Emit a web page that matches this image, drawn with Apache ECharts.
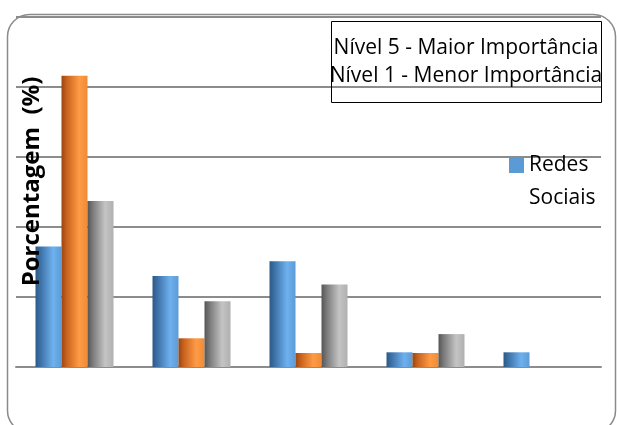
<!DOCTYPE html>
<html>
<head>
<meta charset="utf-8">
<script src="https://cdn.jsdelivr.net/npm/echarts@6/dist/echarts.min.js"></script>
<style>
  html, body { margin: 0; padding: 0; background: #ffffff; }
  #chart { width: 617px; height: 425px; }
</style>
</head>
<body>
<div id="chart"></div>
<script>
// Importance levels on the category axis (labels are not shown on the chart)
const categories = ['Nível 5', 'Nível 4', 'Nível 3', 'Nível 2', 'Nível 1'];

// Percentages per series
const redesSociais = [17.2, 13.0, 15.1, 2.1, 2.1];
const serie2 = [41.6, 4.1, 2.0, 2.0, 0];
const serie3 = [23.7, 9.4, 11.8, 4.7, 0];

const seriesNames = ['Redes Sociais', 'Série 2', 'Série 3'];
const axisTitle = 'Porcentagem  (%)';
const noteLines = ['Nível 5 - Maior Importância', 'Nível 1 - Menor Importância'];

// Cylinder-like horizontal shading for each bar colour
function shade(dark, mid, light, edge) {
  return new echarts.graphic.LinearGradient(0, 0, 1, 0, [
    { offset: 0, color: dark },
    { offset: 0.2, color: mid },
    { offset: 0.68, color: light },
    { offset: 1, color: edge }
  ]);
}

const chart = echarts.init(document.getElementById('chart'), null, { renderer: 'canvas' });

const barCommon = {
  type: 'bar',
  barWidth: 26,
  barGap: '0%',
  barCategoryGap: '33.3%'
};

chart.setOption({
  animation: false,
  backgroundColor: '#ffffff',
  grid: { left: 16, right: 16, top: 17, bottom: 58, containLabel: false },
  legend: {
    data: [seriesNames[0]],
    left: 509,
    top: 116,
    padding: 0,
    itemWidth: 15,
    itemHeight: 15,
    icon: 'rect',
    itemStyle: { color: '#5b9bd5' },
    formatter: function () { return '\u00a0\nRedes\nSociais'; },
    textStyle: { fontFamily: 'Open Sans', fontSize: 21, color: '#000000', lineHeight: 33 }
  },
  xAxis: {
    type: 'category',
    data: categories,
    axisLine: { show: true, lineStyle: { color: '#8c8c8c', width: 2 } },
    axisTick: { show: false },
    axisLabel: { show: false }
  },
  yAxis: {
    type: 'value',
    min: 0,
    max: 50,
    interval: 10,
    axisLine: { show: false },
    axisTick: { show: false },
    axisLabel: { show: false },
    splitLine: { show: true, lineStyle: { color: '#8c8c8c', width: 2 } }
  },
  series: [
    Object.assign({}, barCommon, {
      name: seriesNames[0],
      data: redesSociais,
      itemStyle: { color: shade('#2c5986', '#3d72a8', '#6eb1ee', '#5c9bd6') }
    }),
    Object.assign({}, barCommon, {
      name: seriesNames[1],
      data: serie2,
      itemStyle: { color: shade('#9a460f', '#c8621e', '#ff9b46', '#f08a36') }
    }),
    Object.assign({}, barCommon, {
      name: seriesNames[2],
      data: serie3,
      itemStyle: { color: shade('#555555', '#7a7a7a', '#c4c4c4', '#b0b0b0') }
    })
  ],
  graphic: [
    {
      type: 'rect',
      shape: { x: 7.5, y: 14.5, width: 608, height: 418, r: 22 },
      style: { fill: null, stroke: '#8a8a8a', lineWidth: 1.5 },
      silent: true,
      z: 100
    },
    {
      type: 'rect',
      shape: { x: 331.5, y: 21.5, width: 270, height: 81 },
      style: { fill: null, stroke: '#000000', lineWidth: 1 },
      z: 100
    },
    {
      type: 'text',
      x: 466, y: 48,
      style: {
        text: noteLines[0], fill: '#000000',
        font: '21px "Open Sans"', textAlign: 'center', textVerticalAlign: 'middle'
      },
      z: 101
    },
    {
      type: 'text',
      x: 466, y: 76,
      style: {
        text: noteLines[1], fill: '#000000',
        font: '21px "Open Sans"', textAlign: 'center', textVerticalAlign: 'middle'
      },
      z: 101
    },
    {
      type: 'text',
      x: 32, y: 181.5,
      rotation: Math.PI / 2,
      style: {
        text: axisTitle, fill: '#000000',
        font: 'bold 24px "Open Sans"', textAlign: 'center', textVerticalAlign: 'middle'
      },
      z: 101
    }
  ]
});
</script>
</body>
</html>
